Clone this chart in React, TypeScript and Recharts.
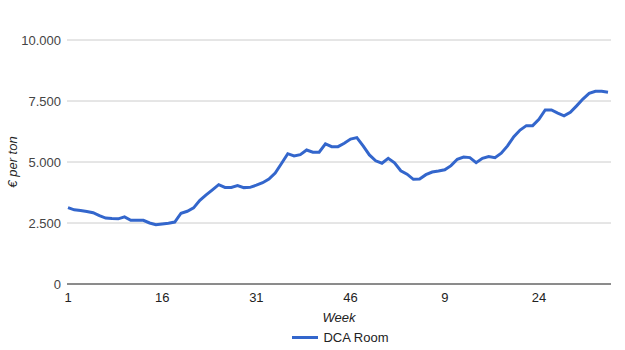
import { LineChart, Line, XAxis, YAxis, CartesianGrid, Legend } from 'recharts';

// week numbers, running over two years
const weeks: number[] = [
  1, 2, 3, 4, 5, 6, 7, 8, 9, 10, 11, 12, 13, 14, 15, 16, 17, 18, 19, 20, 21, 22, 23, 24, 25, 26,
  27, 28, 29, 30, 31, 32, 33, 34, 35, 36, 37, 38, 39, 40, 41, 42, 43, 44, 45, 46, 47, 48, 49, 50,
  51, 52, 1, 2, 3, 4, 5, 6, 7, 8, 9, 10, 11, 12, 13, 14, 15, 16, 17, 18, 19, 20, 21, 22, 23, 24,
  25, 26, 27, 28, 29, 30, 31, 32, 33, 34, 35,
];

// DCA Room price, € per ton
const dcaRoom: number[] = [
  3130, 3040, 3010, 2970, 2920, 2800, 2700, 2680, 2670, 2750, 2610, 2610, 2610, 2500, 2430, 2460,
  2490, 2540, 2900, 2980, 3120, 3430, 3650, 3860, 4070, 3960, 3960, 4030, 3950, 3960, 4050, 4150,
  4300, 4550, 4940, 5340, 5250, 5300, 5490, 5400, 5400, 5740, 5630, 5630, 5770, 5940, 6000, 5660,
  5290, 5050, 4950, 5150, 4970, 4640, 4500, 4290, 4300, 4480, 4590, 4630, 4680, 4850, 5110, 5200,
  5180, 4970, 5150, 5220, 5180, 5360, 5660, 6040, 6310, 6490, 6490, 6750, 7130, 7130, 7000, 6890,
  7040, 7300, 7580, 7810, 7900, 7900, 7860,
];

const yTicks = [0, 2500, 5000, 7500, 10000];

const data = weeks.map((w, i) => ({ key: i, week: w, dca: dcaRoom[i] }));

const FONT = 'Arial, "Liberation Sans", sans-serif';

function formatEuro(v: number): string {
  return String(v).replace(/\B(?=(\d{3})+(?!\d))/g, '.');
}

function LegendContent() {
  return (
    <div
      style={{
        display: 'flex',
        justifyContent: 'center',
        alignItems: 'center',
        fontFamily: FONT,
        fontSize: 13,
        color: '#222',
        paddingLeft: 70,
        paddingTop: 4,
      }}
    >
      <span style={{ display: 'inline-block', width: 26, height: 3, background: '#3366cc', marginRight: 5 }} />
      <span>DCA Room</span>
    </div>
  );
}

export default function App() {
  return (
    <div style={{ position: 'absolute', left: 0, top: 0, background: '#fff' }}>
      <LineChart width={625} height={350} data={data} margin={{ top: 40, right: 14, left: 0, bottom: 0 }}>
        <CartesianGrid horizontal vertical={false} stroke="#cccccc" />
        <XAxis
          dataKey="key"
          tickFormatter={(i) => String(weeks[i])}
          interval={14}
          padding={{ left: 1, right: 3 }}
          tickLine={false}
          tickSize={4}
          tickMargin={5}
          height={42}
          axisLine={{ stroke: '#333333', strokeWidth: 1 }}
          tick={{ fontSize: 13, fill: '#222', fontFamily: FONT }}
          label={{
            value: 'Week',
            position: 'insideBottom',
            offset: 4,
            style: { fontSize: 13, fill: '#222', fontStyle: 'italic', fontFamily: FONT },
          }}
        />
        <YAxis
          domain={[0, 10000]}
          ticks={yTicks}
          tickFormatter={formatEuro}
          width={67}
          tickLine={false}
          axisLine={false}
          tickSize={4}
          tickMargin={2}
          tick={{ fontSize: 13, fill: '#444', fontFamily: FONT }}
          label={{
            value: '€ per ton',
            angle: -90,
            position: 'insideLeft',
            offset: 12,
            style: { textAnchor: 'middle', fontSize: 13, fill: '#222', fontStyle: 'italic', fontFamily: FONT },
          }}
        />
        <Legend verticalAlign="bottom" height={24} content={<LegendContent />} />
        <Line
          type="linear"
          dataKey="dca"
          name="DCA Room"
          stroke="#3366cc"
          strokeWidth={3}
          dot={false}
          isAnimationActive={false}
        />
      </LineChart>
    </div>
  );
}
